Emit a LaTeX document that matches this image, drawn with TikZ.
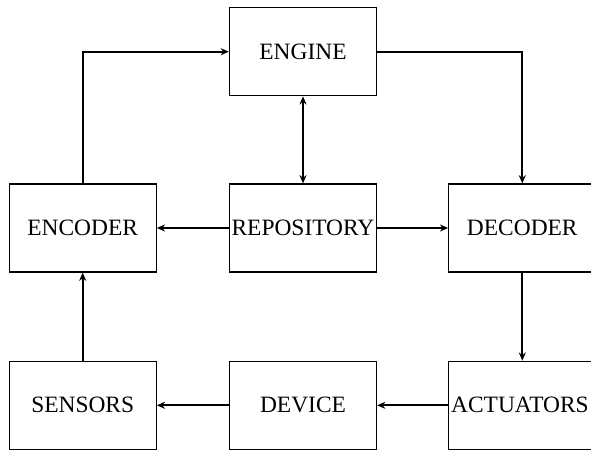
\documentclass[tikz,border=0pt]{standalone}
\usepackage{fontspec}
\setmainfont{Liberation Serif}
\usetikzlibrary{positioning,arrows.meta}

\tikzset{
    block/.style={draw, line width=1.1pt, minimum width=4.41cm, minimum height=2.64cm,
        inner sep=0pt, font=\fontsize{20}{24}\selectfont},
    link/.style={-{Stealth[length=7pt,width=6pt]}, line width=2pt}
}

\begin{document}
\begin{tikzpicture}[x=0.03cm, y=-0.03cm]

    \useasboundingbox (0,0) rectangle (591,450);

    \node[block] (repo) at (303,228) {REPOSITORY};
    \node[block, above=2.61cm of repo] (engine) {ENGINE};
    \node[block, left=2.16cm of repo] (encoder) {ENCODER};
    \node[block, right=2.13cm of repo] (decoder) {DECODER};
    \node[block, below=2.64cm of repo] (device) {DEVICE};
    \node[block, below=2.64cm of encoder] (sensors) {SENSORS};
    \node[block, below=2.64cm of decoder, text width=4.41cm-4pt, align=left, inner xsep=2pt] (actuators) {ACTUATORS};

    \draw[link] (encoder.north) |- (engine.west);
    \draw[link] (engine.east) -| (decoder.north);
    \draw[link, {Stealth[length=7pt,width=6pt]}-{Stealth[length=7pt,width=6pt]}] (engine) -- (repo);
    \draw[link] (repo) -- (encoder);
    \draw[link] (repo) -- (decoder);
    \draw[link] (decoder) -- (actuators);
    \draw[link] (actuators) -- (device);
    \draw[link] (device) -- (sensors);
    \draw[link] (sensors) -- (encoder);

\end{tikzpicture}
\end{document}
